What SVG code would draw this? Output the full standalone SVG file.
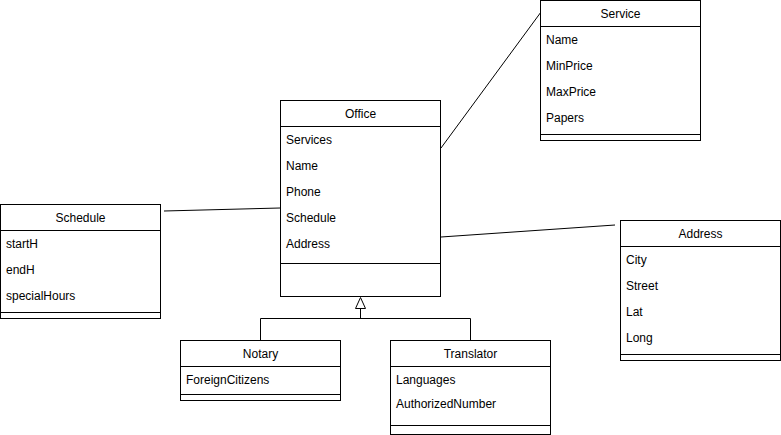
<svg xmlns="http://www.w3.org/2000/svg" width="781" height="435" viewBox="0 0 781 435">
<style>
.box{fill:#fff;stroke:#000;stroke-width:1}
.sep{stroke:#000;stroke-width:1}
.t{font-family:"Liberation Sans",Arial,sans-serif;font-size:12px;fill:#000}
.h{text-anchor:middle}
.c{fill:none;stroke:#000;stroke-width:1}
</style>
<rect width="781" height="435" fill="#fff"/>
<g id="connectors">
<line class="c" x1="441" y1="148" x2="541" y2="12"/>
<line class="c" x1="164" y1="211" x2="280" y2="208"/>
<line class="c" x1="441" y1="237" x2="615" y2="225"/>
<polyline class="c" points="260.5,340 260.5,318.5 470.5,318.5 470.5,340"/>
<line class="c" x1="360.5" y1="318.5" x2="360.5" y2="308.5"/>
<polygon points="360.5,297.5 355.5,308.5 365.5,308.5" fill="#fff" stroke="#000"/>
</g>
<g id="office">
<rect class="box" x="280.5" y="100.5" width="160" height="196"/>
<line class="sep" x1="280.5" y1="126.5" x2="440.5" y2="126.5"/>
<line class="sep" x1="280.5" y1="263.5" x2="440.5" y2="263.5"/>
<text class="t h" x="360.5" y="118">Office</text>
<text class="t" x="286" y="144">Services</text>
<text class="t" x="286" y="170">Name</text>
<text class="t" x="286" y="196">Phone</text>
<text class="t" x="286" y="222">Schedule</text>
<text class="t" x="286" y="248">Address</text>
</g>
<g id="service">
<rect class="box" x="540.5" y="0.5" width="160" height="140"/>
<line class="sep" x1="540.5" y1="26.5" x2="700.5" y2="26.5"/>
<line class="sep" x1="540.5" y1="134.5" x2="700.5" y2="134.5"/>
<text class="t h" x="620.5" y="18">Service</text>
<text class="t" x="546" y="44">Name</text>
<text class="t" x="546" y="70">MinPrice</text>
<text class="t" x="546" y="96">MaxPrice</text>
<text class="t" x="546" y="122">Papers</text>
</g>
<g id="schedule">
<rect class="box" x="0.5" y="204.5" width="160" height="114"/>
<line class="sep" x1="0.5" y1="230.5" x2="160.5" y2="230.5"/>
<line class="sep" x1="0.5" y1="312.5" x2="160.5" y2="312.5"/>
<text class="t h" x="80.5" y="222">Schedule</text>
<text class="t" x="6" y="248">startH</text>
<text class="t" x="6" y="274">endH</text>
<text class="t" x="6" y="300">specialHours</text>
</g>
<g id="address">
<rect class="box" x="620.5" y="220.5" width="160" height="140"/>
<line class="sep" x1="620.5" y1="246.5" x2="780.5" y2="246.5"/>
<line class="sep" x1="620.5" y1="354.5" x2="780.5" y2="354.5"/>
<text class="t h" x="700.5" y="238">Address</text>
<text class="t" x="626" y="264">City</text>
<text class="t" x="626" y="290">Street</text>
<text class="t" x="626" y="316">Lat</text>
<text class="t" x="626" y="342">Long</text>
</g>
<g id="notary">
<rect class="box" x="180.5" y="340.5" width="160" height="60"/>
<line class="sep" x1="180.5" y1="366.5" x2="340.5" y2="366.5"/>
<line class="sep" x1="180.5" y1="394.5" x2="340.5" y2="394.5"/>
<text class="t h" x="260.5" y="358">Notary</text>
<text class="t" x="186" y="384">ForeignCitizens</text>
</g>
<g id="translator">
<rect class="box" x="390.5" y="340.5" width="160" height="94"/>
<line class="sep" x1="390.5" y1="366.5" x2="550.5" y2="366.5"/>
<line class="sep" x1="390.5" y1="425.5" x2="550.5" y2="425.5"/>
<text class="t h" x="470.5" y="358">Translator</text>
<text class="t" x="396" y="384">Languages</text>
<text class="t" x="396" y="408">AuthorizedNumber</text>
</g>
</svg>
